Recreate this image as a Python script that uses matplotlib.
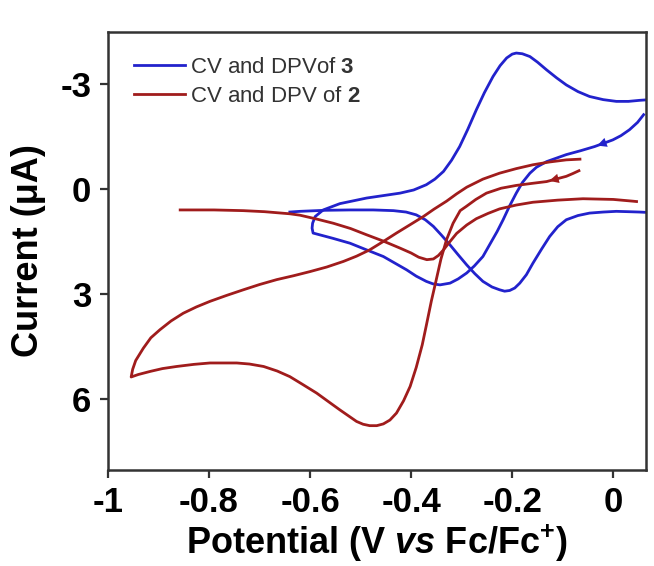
import matplotlib
matplotlib.use("Agg")
import matplotlib.pyplot as plt

plt.rcParams["font.family"] = ["Liberation Sans", "DejaVu Sans"]
plt.rcParams["mathtext.fontset"] = "custom"
plt.rcParams["mathtext.rm"] = "Liberation Sans:bold"
plt.rcParams["mathtext.bf"] = "Liberation Sans:bold"
plt.rcParams["mathtext.it"] = "Liberation Sans:bold:italic"

# CV of 3 (scan starts at the right end, goes negative first)
cv3_v = [0.060, 0.048, 0.032, 0.015, -0.001, -0.037, -0.065, -0.093, -0.132, -0.152,
         -0.165, -0.180, -0.192, -0.205, -0.218, -0.230, -0.245, -0.258, -0.275, -0.290,
         -0.307, -0.323, -0.343, -0.357, -0.370, -0.390, -0.409, -0.432, -0.455, -0.490,
         -0.521, -0.555, -0.581, -0.594, -0.596, -0.595, -0.590, -0.574, -0.541, -0.488,
         -0.422, -0.395, -0.370, -0.353, -0.336, -0.320, -0.304, -0.288, -0.271, -0.255,
         -0.238, -0.224, -0.211, -0.200, -0.192, -0.180, -0.165, -0.150, -0.132, -0.112,
         -0.093, -0.070, -0.047, -0.020, 0.006, 0.030, 0.052, 0.062]
cv3_i = [-2.12, -1.90, -1.69, -1.52, -1.40, -1.21, -1.09, -0.98, -0.78, -0.62,
         -0.45, -0.18, 0.12, 0.48, 0.88, 1.22, 1.60, 1.93, 2.20, 2.40,
         2.57, 2.69, 2.74, 2.71, 2.64, 2.49, 2.31, 2.12, 1.93, 1.73,
         1.55, 1.41, 1.31, 1.26, 1.12, 0.98, 0.79, 0.60, 0.42, 0.26,
         0.12, 0.03, -0.12, -0.28, -0.50, -0.82, -1.21, -1.70, -2.26, -2.75,
         -3.21, -3.52, -3.74, -3.85, -3.88, -3.86, -3.78, -3.62, -3.40, -3.17,
         -2.97, -2.78, -2.64, -2.55, -2.50, -2.50, -2.53, -2.54]

# DPV of 3
dpv3_v = [-0.640, -0.620, -0.570, -0.521, -0.475, -0.435, -0.410, -0.390, -0.372, -0.356,
          -0.340, -0.323, -0.307, -0.290, -0.274, -0.258, -0.240, -0.225, -0.215, -0.205,
          -0.195, -0.185, -0.172, -0.159, -0.142, -0.126, -0.110, -0.093, -0.070, -0.047,
          -0.020, 0.006, 0.030, 0.052, 0.065]
dpv3_i = [0.66, 0.64, 0.61, 0.60, 0.60, 0.62, 0.66, 0.74, 0.88, 1.07,
          1.32, 1.60, 1.88, 2.17, 2.42, 2.64, 2.80, 2.88, 2.92, 2.90,
          2.83, 2.69, 2.45, 2.12, 1.72, 1.36, 1.08, 0.88, 0.76, 0.69,
          0.66, 0.64, 0.65, 0.66, 0.67]

# CV of 2 (scan starts at the right end, goes negative first)
cv2_v = [-0.068, -0.080, -0.093, -0.132, -0.160, -0.192, -0.222, -0.251, -0.272, -0.291,
         -0.303, -0.317, -0.330, -0.341, -0.352, -0.360, -0.370, -0.378, -0.390, -0.402,
         -0.415, -0.429, -0.442, -0.455, -0.468, -0.482, -0.495, -0.508, -0.541, -0.565,
         -0.587, -0.615, -0.640, -0.665, -0.692, -0.720, -0.745, -0.798, -0.830, -0.864,
         -0.892, -0.916, -0.940, -0.954, -0.951, -0.945, -0.930, -0.915, -0.897, -0.875,
         -0.851, -0.825, -0.798, -0.765, -0.732, -0.700, -0.666, -0.633, -0.600, -0.567,
         -0.534, -0.508, -0.482, -0.455, -0.429, -0.403, -0.376, -0.355, -0.330, -0.310,
         -0.290, -0.258, -0.225, -0.192, -0.159, -0.126, -0.093, -0.066]
cv2_i = [-0.52, -0.44, -0.36, -0.21, -0.16, -0.10, -0.02, 0.12, 0.30, 0.50,
         0.62, 0.98, 1.45, 2.00, 2.70, 3.20, 3.90, 4.45, 5.10, 5.64,
         6.05, 6.40, 6.60, 6.71, 6.76, 6.76, 6.72, 6.64, 6.31, 6.06,
         5.83, 5.58, 5.36, 5.20, 5.07, 5.00, 4.97, 4.97, 5.01, 5.07,
         5.13, 5.21, 5.30, 5.37, 5.15, 4.90, 4.55, 4.25, 4.02, 3.77,
         3.55, 3.37, 3.21, 3.04, 2.88, 2.73, 2.59, 2.48, 2.36, 2.23,
         2.07, 1.92, 1.74, 1.50, 1.26, 1.03, 0.79, 0.58, 0.35, 0.14,
         -0.05, -0.28, -0.45, -0.58, -0.69, -0.77, -0.83, -0.85]

# DPV of 2
dpv2_v = [-0.857, -0.790, -0.732, -0.690, -0.640, -0.620, -0.587, -0.554, -0.520, -0.488,
          -0.455, -0.422, -0.400, -0.385, -0.369, -0.356, -0.346, -0.336, -0.323, -0.310,
          -0.290, -0.271, -0.248, -0.225, -0.192, -0.159, -0.110, -0.060, 0.000, 0.039,
          0.046]
dpv2_i = [0.60, 0.60, 0.62, 0.65, 0.71, 0.75, 0.86, 0.98, 1.13, 1.31,
          1.49, 1.69, 1.83, 1.95, 2.02, 2.00, 1.90, 1.74, 1.50, 1.27,
          1.03, 0.85, 0.70, 0.57, 0.46, 0.38, 0.32, 0.28, 0.30, 0.35,
          0.36]

x_ticks = [-1, -0.8, -0.6, -0.4, -0.2, 0]
x_labels = ["-1", "-0.8", "-0.6", "-0.4", "-0.2", "0"]
y_ticks = [-3, 0, 3, 6]
y_labels = ["-3", "0", "3", "6"]

blue = "#2222cc"
red = "#a01c1c"

fig = plt.figure(figsize=(6.54, 5.66), dpi=100)
ax = fig.add_axes([0.165, 0.170, 0.823, 0.774])

ax.plot(cv3_v, cv3_i, color=blue, lw=2.0, label=r"CV and DPVof $\mathbf{3}$")
ax.plot(dpv3_v, dpv3_i, color=blue, lw=2.0)
ax.plot(cv2_v, cv2_i, color=red, lw=2.0, label=r"CV and DPV of $\mathbf{2}$")
ax.plot(dpv2_v, dpv2_i, color=red, lw=2.0)

# scan direction arrows
for v, i, c, k in [(cv3_v, cv3_i, blue, 5), (cv2_v, cv2_i, red, 3)]:
    ax.annotate("", xy=(v[k], i[k]), xytext=(v[k - 1], i[k - 1]),
                arrowprops=dict(arrowstyle="-|>", color=c, lw=0, mutation_scale=17))

ax.set_xlim(-1.0, 0.065)
ax.set_ylim(8.02, -4.49)
ax.set_xticks(x_ticks)
ax.set_xticklabels(x_labels)
ax.set_yticks(y_ticks)
ax.set_yticklabels(y_labels)

for s in ax.spines.values():
    s.set_linewidth(1.8)
    s.set_color("#333333")
ax.tick_params(direction="out", length=6, width=1.6, color="#333333",
               labelsize=25, pad=6)
for t in ax.get_xticklabels() + ax.get_yticklabels():
    t.set_fontweight("bold")

ax.set_xlabel(r"Potential (V $\mathit{vs}$ Fc/Fc$^{+}$)", fontsize=26,
              fontweight="bold", labelpad=2)
ax.set_ylabel("Current (\u03bcA)", fontsize=26, fontweight="bold", labelpad=10)

ax.legend(loc="upper left", bbox_to_anchor=(0.048, 0.942), frameon=False,
          fontsize=16, handlelength=2.3, handletextpad=0.25, labelspacing=0.35,
          borderaxespad=0, borderpad=0, labelcolor="#333333")

fig.savefig("out.png", dpi=100)
